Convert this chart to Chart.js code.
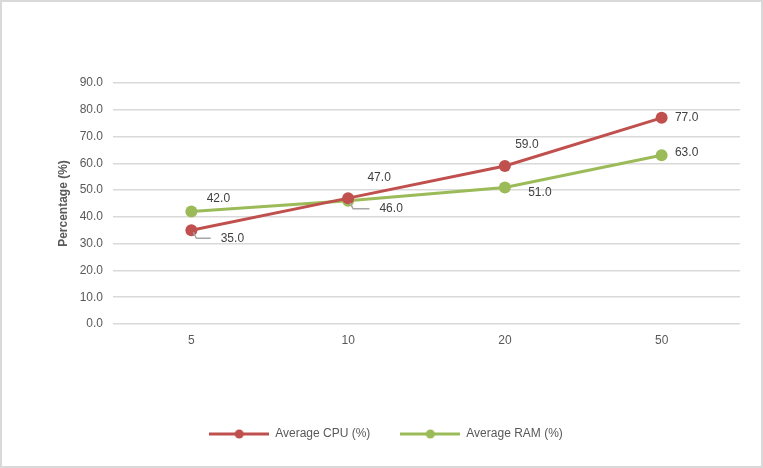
<!DOCTYPE html>
<html>
<head>
<meta charset="utf-8">
<script src="https://cdn.jsdelivr.net/npm/chart.js@4/dist/chart.umd.min.js"></script>
<style>
  html, body { margin: 0; padding: 0; background: #fff; }
  #wrap { position: relative; width: 763px; height: 468px; box-sizing: border-box; border: 2px solid #d9d9d9; }
  canvas { position: absolute; left: -2px; top: -2px; }
</style>
</head>
<body>
<div id="wrap"><canvas id="c" width="763" height="468"></canvas></div>
<script>
const categories = ['5', '10', '20', '50'];
const cpuValues = [35.0, 47.0, 59.0, 77.0];
const ramValues = [42.0, 46.0, 51.0, 63.0];
const seriesNames = ['Average CPU (%)', 'Average RAM (%)'];
const yTitle = 'Percentage (%)';

const RED = '#C0504D';
const GREEN = '#9BBB59';
const TEXT = '#595959';
const FONT = "'Liberation Sans', Arial, sans-serif";

// label offsets (pixel placement of data labels relative to their point)
const labelPlacement = [
  [{dx: 41, dy: 8, leader: true}, {dx: 31, dy: -20}, {dx: 22, dy: -21}, {dx: 25, dy: 0}],
  [{dx: 27, dy: -13}, {dx: 43, dy: 8, leader: true}, {dx: 35, dy: 5}, {dx: 25, dy: -3}]
];

function legendIcon(color) {
  const cv = document.createElement('canvas');
  cv.width = 60; cv.height = 12;
  const g = cv.getContext('2d');
  g.strokeStyle = color; g.lineWidth = 3;
  g.beginPath(); g.moveTo(0, 6); g.lineTo(60, 6); g.stroke();
  g.fillStyle = color;
  g.beginPath(); g.arc(30, 6, 4.5, 0, Math.PI * 2); g.fill();
  return cv;
}

const dataLabels = {
  id: 'dataLabels',
  afterLayout(chart) {
    if (chart.legend) { chart.legend.left -= 10; chart.legend.right -= 10; }
  },
  afterDatasetsDraw(chart) {
    const ctx = chart.ctx;
    ctx.save();
    ctx.font = '12px ' + FONT;
    ctx.fillStyle = '#404040';
    ctx.textAlign = 'center';
    ctx.textBaseline = 'middle';
    chart.data.datasets.forEach((ds, di) => {
      const meta = chart.getDatasetMeta(di);
      meta.data.forEach((pt, i) => {
        const pl = labelPlacement[di][i];
        const txt = ds.data[i].toFixed(1);
        const lx = pt.x + pl.dx, ly = pt.y + pl.dy;
        if (pl.leader) {
          const w = ctx.measureText(txt).width;
          ctx.strokeStyle = '#a6a6a6';
          ctx.lineWidth = 1.5;
          ctx.beginPath();
          ctx.moveTo(pt.x + 2, pt.y + 2);
          ctx.lineTo(pt.x + 5, ly);
          ctx.lineTo(lx - w / 2 - 10, ly);
          ctx.stroke();
        }
        ctx.fillText(txt, lx, ly);
      });
    });
    ctx.restore();
  }
};

new Chart(document.getElementById('c'), {
  type: 'line',
  data: {
    labels: categories,
    datasets: [
      { label: seriesNames[0], data: cpuValues, borderColor: RED, backgroundColor: RED,
        borderWidth: 3, pointRadius: 6, pointHoverRadius: 6, pointBorderWidth: 0, tension: 0 },
      { label: seriesNames[1], data: ramValues, borderColor: GREEN, backgroundColor: GREEN,
        borderWidth: 3, pointRadius: 6, pointHoverRadius: 6, pointBorderWidth: 0, tension: 0 }
    ]
  },
  options: {
    responsive: false,
    animation: false,
    layout: { padding: { left: 52, right: 23, top: 83, bottom: 18 } },
    plugins: {
      tooltip: { enabled: false },
      legend: {
        position: 'bottom',
        labels: {
          color: TEXT,
          font: { family: FONT, size: 12 },
          usePointStyle: true,
          pointStyleWidth: 60,
          boxHeight: 12,
          padding: 30,
          generateLabels(chart) {
            return chart.data.datasets.map((ds, i) => ({
              text: ds.label,
              fillStyle: ds.borderColor,
              strokeStyle: ds.borderColor,
              pointStyle: legendIcon(ds.borderColor),
              datasetIndex: i,
              hidden: false,
              fontColor: TEXT
            }));
          }
        }
      }
    },
    scales: {
      x: {
        offset: true,
        grid: { display: false, drawTicks: false },
        border: { display: false },
        ticks: { color: TEXT, font: { family: FONT, size: 12 }, padding: 9 },
        afterFit(s) { s.height = 74; }
      },
      y: {
        min: 0, max: 90,
        ticks: { stepSize: 10, color: TEXT, font: { family: FONT, size: 12 }, padding: 10,
          callback: v => v.toFixed(1) },
        grid: { color: '#d9d9d9', lineWidth: 1.5, drawTicks: false },
        border: { display: false },
        title: { display: true, text: yTitle, color: TEXT, font: { family: FONT, size: 12, weight: 'bold' }, padding: { top: 4, bottom: 4 } },
        afterFit(s) { s.width = 61; }
      }
    }
  },
  plugins: [dataLabels]
});
</script>
</body>
</html>
